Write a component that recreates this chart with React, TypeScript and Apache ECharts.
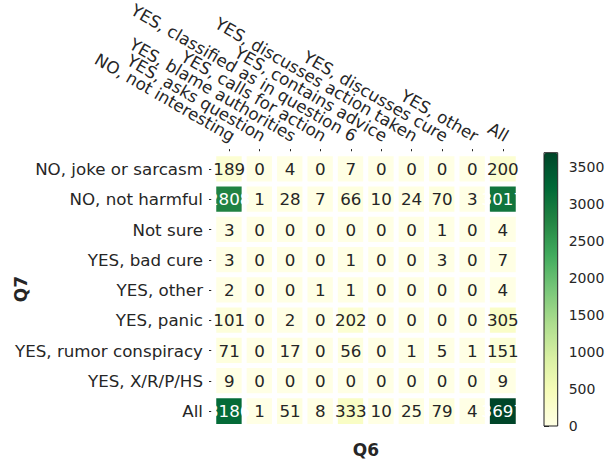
import React, { useEffect, useRef } from "react";
import * as echarts from "echarts";

const colLabels = [
  "NO, not interesting",
  "YES, asks question",
  "YES, blame authorities",
  "YES, calls for action",
  "YES, classified as in question 6",
  "YES, contains advice",
  "YES, discusses action taken",
  "YES, discusses cure",
  "YES, other",
  "All",
];
const rowLabels = [
  "NO, joke or sarcasm",
  "NO, not harmful",
  "Not sure",
  "YES, bad cure",
  "YES, other",
  "YES, panic",
  "YES, rumor conspiracy",
  "YES, X/R/P/HS",
  "All",
];
const rowJoke = [189, 0, 4, 0, 7, 0, 0, 0, 0, 200];
const rowNotHarmful = [2808, 1, 28, 7, 66, 10, 24, 70, 3, 3017];
const rowNotSure = [3, 0, 0, 0, 0, 0, 0, 1, 0, 4];
const rowBadCure = [3, 0, 0, 0, 1, 0, 0, 3, 0, 7];
const rowOther = [2, 0, 0, 1, 1, 0, 0, 0, 0, 4];
const rowPanic = [101, 0, 2, 0, 202, 0, 0, 0, 0, 305];
const rowRumor = [71, 0, 17, 0, 56, 0, 1, 5, 1, 151];
const rowXRPHS = [9, 0, 0, 0, 0, 0, 0, 0, 0, 9];
const rowAll = [3186, 1, 51, 8, 333, 10, 25, 79, 4, 3697];
const rows = [rowJoke, rowNotHarmful, rowNotSure, rowBadCure, rowOther, rowPanic, rowRumor, rowXRPHS, rowAll];
const colorbarTicks = [0, 500, 1000, 1500, 2000, 2500, 3000, 3500];

const VMAX = 3697;
const YLGN = ["#ffffe5", "#f7fcb9", "#d9f0a3", "#addd8e", "#78c679", "#41ab5d", "#238443", "#006837", "#004529"];
const FONT = "DejaVu Sans";
const TXT = "#262626";

export default function App() {
  const ref = useRef<HTMLDivElement>(null);
  useEffect(() => {
    document.body.style.margin = "0";
    if (!ref.current) return;
    const chart = echarts.init(ref.current, null, { renderer: "svg" });
    const data: any[] = [];
    rows.forEach((r, yi) =>
      r.forEach((v, xi) => {
        data.push({
          value: [xi, yi, v],
          label: { color: v / VMAX > 0.6 ? "#ffffff" : TXT },
        });
      })
    );
    chart.setOption({
      animation: false,
      backgroundColor: "#ffffff",
      textStyle: { fontFamily: FONT },
      grid: [
        { left: 214, right: 95, top: 152.3, bottom: 34.8 },
        { left: 544, top: 152.7, width: 13.7, height: 273.3 },
      ],
      xAxis: [
        {
          type: "category",
          data: colLabels,
          position: "top",
          gridIndex: 0,
          axisLine: { show: false },
          axisTick: { show: true, length: 5, alignWithLabel: true, lineStyle: { color: TXT } },
          axisLabel: {
            rotate: 30,
            margin: 19,
            fontSize: 16.7,
            color: TXT,
            fontFamily: FONT,
            interval: 0,
            padding: [0, -5, 6, 0],
          },
          splitLine: { show: false },
        },
        { type: "value", gridIndex: 1, show: false, min: 0, max: 1 },
      ],
      yAxis: [
        {
          type: "category",
          data: rowLabels,
          inverse: true,
          gridIndex: 0,
          axisLine: { show: false },
          axisTick: { show: true, length: 5, alignWithLabel: true, lineStyle: { color: TXT } },
          axisLabel: { margin: 11, fontSize: 16.7, color: TXT, fontFamily: FONT, interval: 0 },
          splitLine: { show: false },
        },
        {
          type: "value",
          gridIndex: 1,
          position: "right",
          min: 0,
          max: VMAX,
          axisLine: { show: false },
          splitLine: { show: false },
          axisTick: { show: true, length: 5, customValues: colorbarTicks, lineStyle: { color: TXT } },
          axisLabel: {
            margin: 11,
            fontSize: 14,
            color: TXT,
            fontFamily: FONT,
            customValues: colorbarTicks,
            formatter: (v: number) => String(v),
          },
        },
      ],
      visualMap: {
        type: "continuous",
        min: 0,
        max: VMAX,
        seriesIndex: 0,
        dimension: 2,
        show: true,
        calculable: false,
        hoverLink: false,
        orient: "vertical",
        left: 544,
        top: 152.7,
        itemWidth: 13.7,
        itemHeight: 273.3,
        padding: 0,
        inRange: { color: YLGN },
      },
      graphic: [
        {
          type: "rect",
          shape: { x: 544, y: 152.7, width: 13.7, height: 273.3 },
          style: { fill: "none", stroke: "#222", lineWidth: 1 },
          z: 100,
        },
        {
          type: "text",
          x: 366,
          y: 450,
          style: { text: "Q6", font: `bold 17px "${FONT}"`, fill: TXT, align: "center", verticalAlign: "middle" },
        },
        {
          type: "text",
          x: 21,
          y: 289,
          rotation: Math.PI / 2,
          style: { text: "Q7", font: `bold 17px "${FONT}"`, fill: TXT, align: "center", verticalAlign: "middle" },
        },
      ],
      series: [
        {
          type: "heatmap",
          xAxisIndex: 0,
          yAxisIndex: 0,
          data,
          label: { show: true, fontSize: 16.7, fontFamily: FONT },
          itemStyle: { borderColor: "#ffffff", borderWidth: 5 },
          emphasis: { disabled: true },
        },
        { type: "scatter", xAxisIndex: 1, yAxisIndex: 1, data: [] },
      ],
    });
    return () => chart.dispose();
  }, []);
  return <div ref={ref} style={{ width: 613, height: 461 }} />;
}
